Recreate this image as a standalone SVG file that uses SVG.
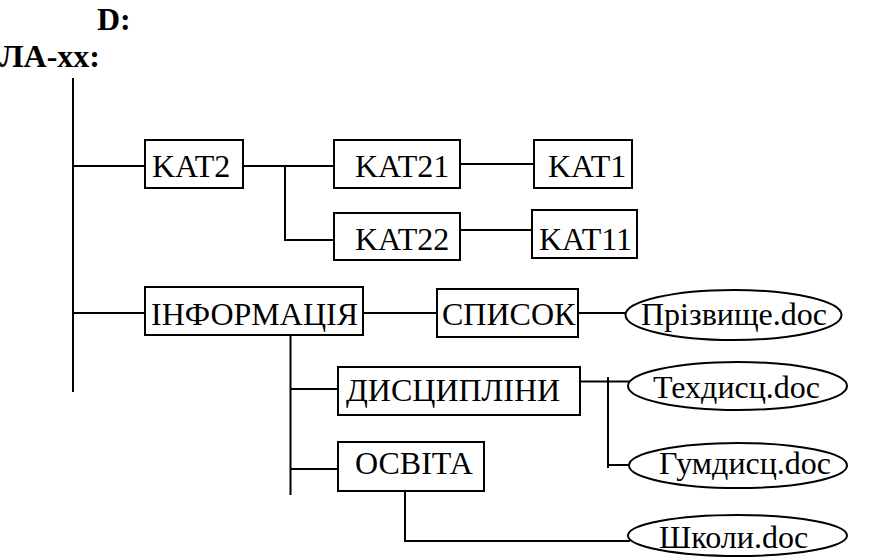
<svg xmlns="http://www.w3.org/2000/svg" width="896" height="558" viewBox="0 0 896 558">
<style>
.b{fill:#fff;stroke:#000;stroke-width:2}
.t{font-family:"Liberation Serif","Times New Roman",serif;font-size:32px;fill:#000}
.h{font-family:"Liberation Serif","Times New Roman",serif;font-size:32px;font-weight:bold;fill:#000}
.c line,.c path{stroke:#000;stroke-width:2;fill:none}
</style>
<rect width="896" height="558" fill="#fff"/>
<g id="title">
<text class="h" x="97" y="30">D:</text>
<text class="h" x="100" y="67" text-anchor="end">ЛА-хх:</text>
</g>
<g class="c" id="connectors">
<line x1="73" y1="78" x2="73" y2="392"/>
<line x1="73" y1="166" x2="145" y2="166"/>
<line x1="243" y1="166" x2="340" y2="166"/>
<path d="M285,166 V240 H334"/>
<line x1="460" y1="164" x2="534" y2="164"/>
<line x1="460" y1="230" x2="532" y2="230"/>
<line x1="73" y1="313" x2="145" y2="313"/>
<line x1="363" y1="313" x2="437" y2="313"/>
<line x1="578" y1="313" x2="627" y2="313"/>
<line x1="290.5" y1="335" x2="290.5" y2="495"/>
<line x1="290" y1="389" x2="338" y2="389"/>
<line x1="290" y1="469" x2="338" y2="469"/>
<line x1="580" y1="381.5" x2="632" y2="381.5"/>
<line x1="608" y1="377" x2="608" y2="468"/>
<line x1="608" y1="465" x2="632" y2="465"/>
<path d="M405,491 V541 H630"/>
</g>
<g id="kat2"><rect class="b" x="145" y="140" width="98" height="48"/><text class="t" x="152" y="177">KAT2</text></g>
<g id="kat21"><rect class="b" x="334" y="140" width="126" height="48"/><text class="t" x="355" y="177">KAT21</text></g>
<g id="kat1"><rect class="b" x="534" y="140" width="98" height="48"/><text class="t" x="548" y="177">KAT1</text></g>
<g id="kat22"><rect class="b" x="334" y="213" width="126" height="47"/><text class="t" x="355" y="250">KAT22</text></g>
<g id="kat11"><rect class="b" x="532" y="210" width="105" height="48"/><text class="t" x="539" y="250">KAT11</text></g>
<g id="info"><rect class="b" x="145" y="287" width="218" height="48"/><text class="t" x="151" y="325">ІНФОРМАЦІЯ</text></g>
<g id="spysok"><rect class="b" x="437" y="289" width="141" height="48"/><text class="t" x="442" y="325">СПИСОК</text></g>
<g id="dysc"><rect class="b" x="338" y="367" width="242" height="48"/><text class="t" x="346" y="401">ДИСЦИПЛІНИ</text></g>
<g id="osvita"><rect class="b" x="338" y="442" width="146" height="49"/><text class="t" x="355" y="474">ОСВІТА</text></g>
<g id="prizv"><ellipse class="b" cx="733.5" cy="315" rx="108" ry="25"/><text class="t" x="641" y="325">Прізвище.doc</text></g>
<g id="tekh"><ellipse class="b" cx="737.5" cy="386" rx="109.5" ry="24"/><text class="t" x="653" y="398">Техдисц.doc</text></g>
<g id="gum"><ellipse class="b" cx="738" cy="465.5" rx="109" ry="22.5"/><text class="t" x="659" y="474">Гумдисц.doc</text></g>
<g id="shk"><ellipse class="b" cx="737.5" cy="535.5" rx="109.5" ry="20.5"/><text class="t" x="659" y="548">Школи.doc</text></g>
</svg>
